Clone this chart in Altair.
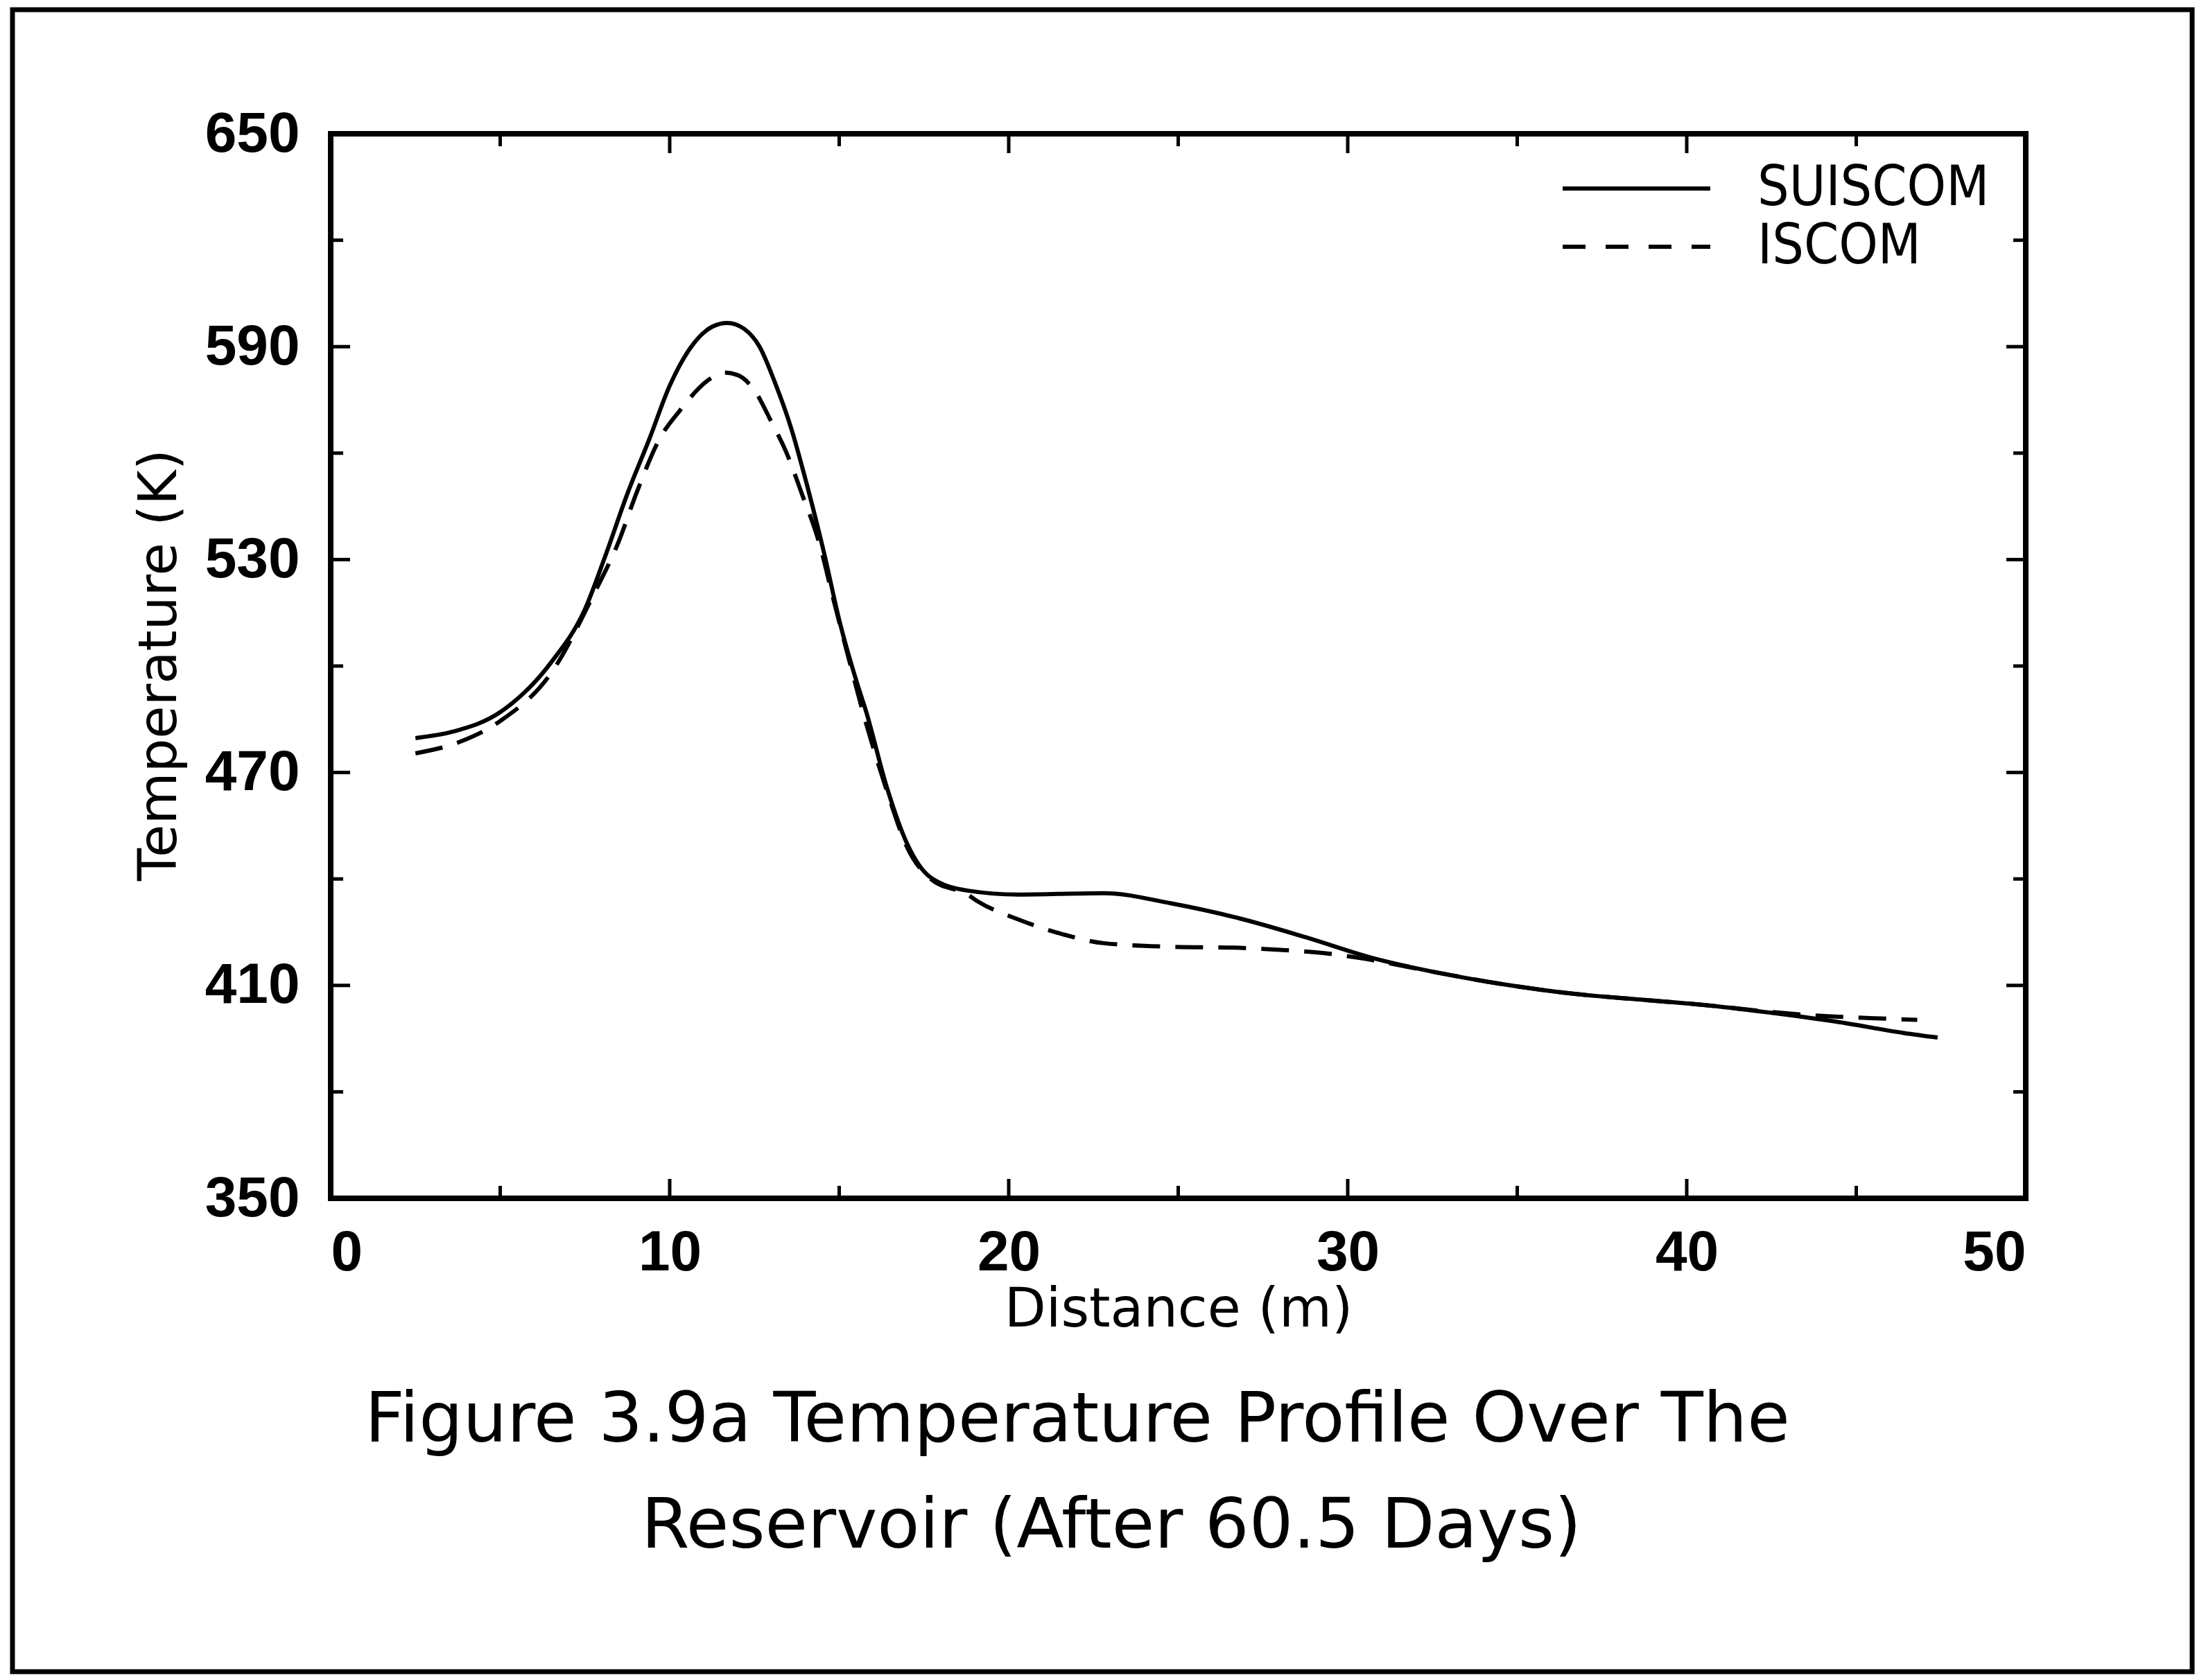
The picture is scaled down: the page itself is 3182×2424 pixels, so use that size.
import altair as alt
import pandas as pd

# ---- data ----
dist_suiscom = [2.5, 3.6, 5.0, 6.5, 7.5, 8.1, 8.75, 9.4, 10.0, 10.6, 11.25, 11.7, 12.2,
                12.65, 13.1, 13.6, 14.05, 14.55, 15.0, 15.5, 15.8, 16.4, 17.0, 17.7, 18.8,
                20.3, 22.8, 24.8, 26.8, 28.75, 30.7, 32.7, 34.6, 36.6, 38.5, 40.5, 42.4,
                44.4, 46.4, 47.4]
temp_suiscom = [479.7, 481.5, 487.0, 501.0, 516.0, 531.0, 548.5, 564.0, 579.0, 589.5, 595.6,
                596.7, 595.0, 590.0, 580.0, 566.5, 551.0, 532.0, 513.0, 496.0, 487.0, 466.0,
                450.0, 440.4, 436.7, 435.6, 436.0, 433.1, 428.9, 423.6, 417.8, 413.5, 410.3,
                407.7, 406.1, 404.5, 402.4, 399.8, 396.6, 395.3]

dist_iscom = [2.5, 3.8, 5.0, 6.5, 7.8, 8.45, 9.05, 9.7, 10.3, 11.2, 11.6, 12.0, 12.5, 13.0,
              13.45, 13.9, 14.4, 14.85, 15.3, 15.7, 16.4, 17.0, 17.7, 18.8, 19.1, 20.25,
              21.6, 22.8, 24.8, 26.8, 28.0, 29.1, 30.3, 32.7, 34.6, 36.6, 38.5, 40.5, 42.4,
              44.0, 45.4, 46.8]
temp_iscom = [475.4, 478.6, 484.5, 498.0, 521.0, 534.0, 549.5, 564.0, 572.0, 581.0, 582.7,
              582.0, 577.7, 568.8, 560.0, 548.5, 535.0, 518.0, 501.4, 487.0, 465.0, 449.0,
              440.0, 435.5, 433.6, 428.7, 424.4, 421.9, 420.9, 420.6, 420.0, 419.3, 417.8,
              413.5, 410.3, 407.7, 406.1, 404.5, 402.6, 401.4, 400.8, 400.3]

series_names = ["SUISCOM", "ISCOM"]

x_major = [0, 10, 20, 30, 40, 50]
x_minor = [5, 15, 25, 35, 45]
y_major = [350, 410, 470, 530, 590, 650]
y_minor = [380, 440, 500, 560, 620]

caption_lines = ["Figure 3.9a  Temperature Profile Over The", "Reservoir (After 60.5 Days)"]

# ---- layout ----
W, H = 2445, 1536
PAD_L, PAD_T = 477, 193
PAD_R = 3182 - PAD_L - W
PAD_B = 2424 - PAD_T - H

df_s = pd.DataFrame({"Distance": dist_suiscom, "Temperature": temp_suiscom, "Model": series_names[0]})
df_i = pd.DataFrame({"Distance": dist_iscom, "Temperature": temp_iscom, "Model": series_names[1]})

x_scale = alt.Scale(domain=[0, 50], nice=False, zero=False)
y_scale = alt.Scale(domain=[350, 650], nice=False, zero=False)

LABEL_FONT = "Liberation Sans"
TITLE_FONT = "DejaVu Sans"

x_axis = alt.Axis(values=x_major, title="Distance (m)", labelPadding=38,
                  titleY=184, titleBaseline="alphabetic", titleFontSize=78)
y_axis = alt.Axis(values=y_major, title="Temperature (K)", labelPadding=45,
                  titleX=-224, titleY=766, titleBaseline="alphabetic", titleAlign="center",
                  titleFontSize=77)

dashed = alt.Chart(df_i).mark_line(
    color="black", strokeWidth=6, interpolate="monotone", strokeDash=[40, 22]
).encode(
    x=alt.X("Distance:Q", scale=x_scale, axis=x_axis),
    y=alt.Y("Temperature:Q", scale=y_scale, axis=y_axis),
)

solid = alt.Chart(df_s).mark_line(
    color="black", strokeWidth=6, interpolate="monotone"
).encode(
    x=alt.X("Distance:Q", scale=x_scale),
    y=alt.Y("Temperature:Q", scale=y_scale),
)

TICK_W = 5
MAJ, MIN = 28, 18


def xticks(vals, length, top):
    base = alt.Chart(pd.DataFrame({"Distance": vals})).mark_rule(color="black", strokeWidth=TICK_W)
    if top:
        return base.encode(x=alt.X("Distance:Q", scale=x_scale), y=alt.value(0), y2=alt.value(length))
    return base.encode(x=alt.X("Distance:Q", scale=x_scale), y=alt.value(H), y2=alt.value(H - length))


def yticks(vals, length, right):
    base = alt.Chart(pd.DataFrame({"Temperature": vals})).mark_rule(color="black", strokeWidth=TICK_W)
    if right:
        return base.encode(y=alt.Y("Temperature:Q", scale=y_scale), x=alt.value(W), x2=alt.value(W - length))
    return base.encode(y=alt.Y("Temperature:Q", scale=y_scale), x=alt.value(0), x2=alt.value(length))


ticks = [
    xticks(x_major, MAJ, False), xticks(x_minor, MIN, False),
    xticks(x_major, MAJ, True), xticks(x_minor, MIN, True),
    yticks(y_major, MAJ, False), yticks(y_minor, MIN, False),
    yticks(y_major, MAJ, True), yticks(y_minor, MIN, True),
]

# ---- legend (drawn inside the plot, top right) ----
LEG_X0, LEG_X1, LEG_TX = 1777, 1990, 2058
LEG_Y = [79, 163]
leg_layers = []
for i, name in enumerate(series_names):
    src = pd.DataFrame({"Model": [name]})
    rule_kwargs = dict(color="black", strokeWidth=6)
    if i == 1:
        rule_kwargs["strokeDash"] = [33, 29]
    leg_layers.append(
        alt.Chart(src).mark_rule(**rule_kwargs).encode(
            x=alt.value(LEG_X0), x2=alt.value(LEG_X1), y=alt.value(LEG_Y[i])
        )
    )
    leg_layers.append(
        alt.Chart(src).mark_text(
            align="left", baseline="middle",
            font="Liberation Sans Narrow, DejaVu Sans Condensed, sans-serif",
            fontSize=80, color="black"
        ).encode(x=alt.value(LEG_TX), y=alt.value(LEG_Y[i]), text="Model:N")
    )

# ---- caption below the plot ----
CAP_X = [1077, 1126]
CAP_Y = [1887, 2040]
cap_layers = []
for i, line in enumerate(caption_lines):
    cap_layers.append(
        alt.Chart(pd.DataFrame({"Caption": [line]})).mark_text(
            align="center", baseline="alphabetic", font=TITLE_FONT, fontSize=100, color="black"
        ).encode(x=alt.value(CAP_X[i]), y=alt.value(CAP_Y[i]), text="Caption:N")
    )

# ---- outer page frame ----
frame = alt.Chart(pd.DataFrame({"k": [0]})).mark_rect(
    fillOpacity=0, stroke="black", strokeWidth=7
).encode(
    x=alt.value(-459), x2=alt.value(2685), y=alt.value(-179), y2=alt.value(2219)
)

chart = alt.layer(dashed, solid, *ticks, *leg_layers, *cap_layers, frame).properties(
    width=W, height=H,
    autosize=alt.AutoSizeParams(type="none"),
    padding={"left": PAD_L, "top": PAD_T, "right": PAD_R, "bottom": PAD_B},
    background="white",
).configure_view(
    stroke="black", strokeWidth=8
).configure_axis(
    ticks=False, domain=False, grid=False,
    labelFont=LABEL_FONT, labelFontSize=82, labelFontWeight="bold", labelColor="black",
    titleFont=TITLE_FONT, titleFontWeight="normal", titleColor="black",
)

chart.save("out.html", embed_options={"renderer": "svg", "actions": False})
